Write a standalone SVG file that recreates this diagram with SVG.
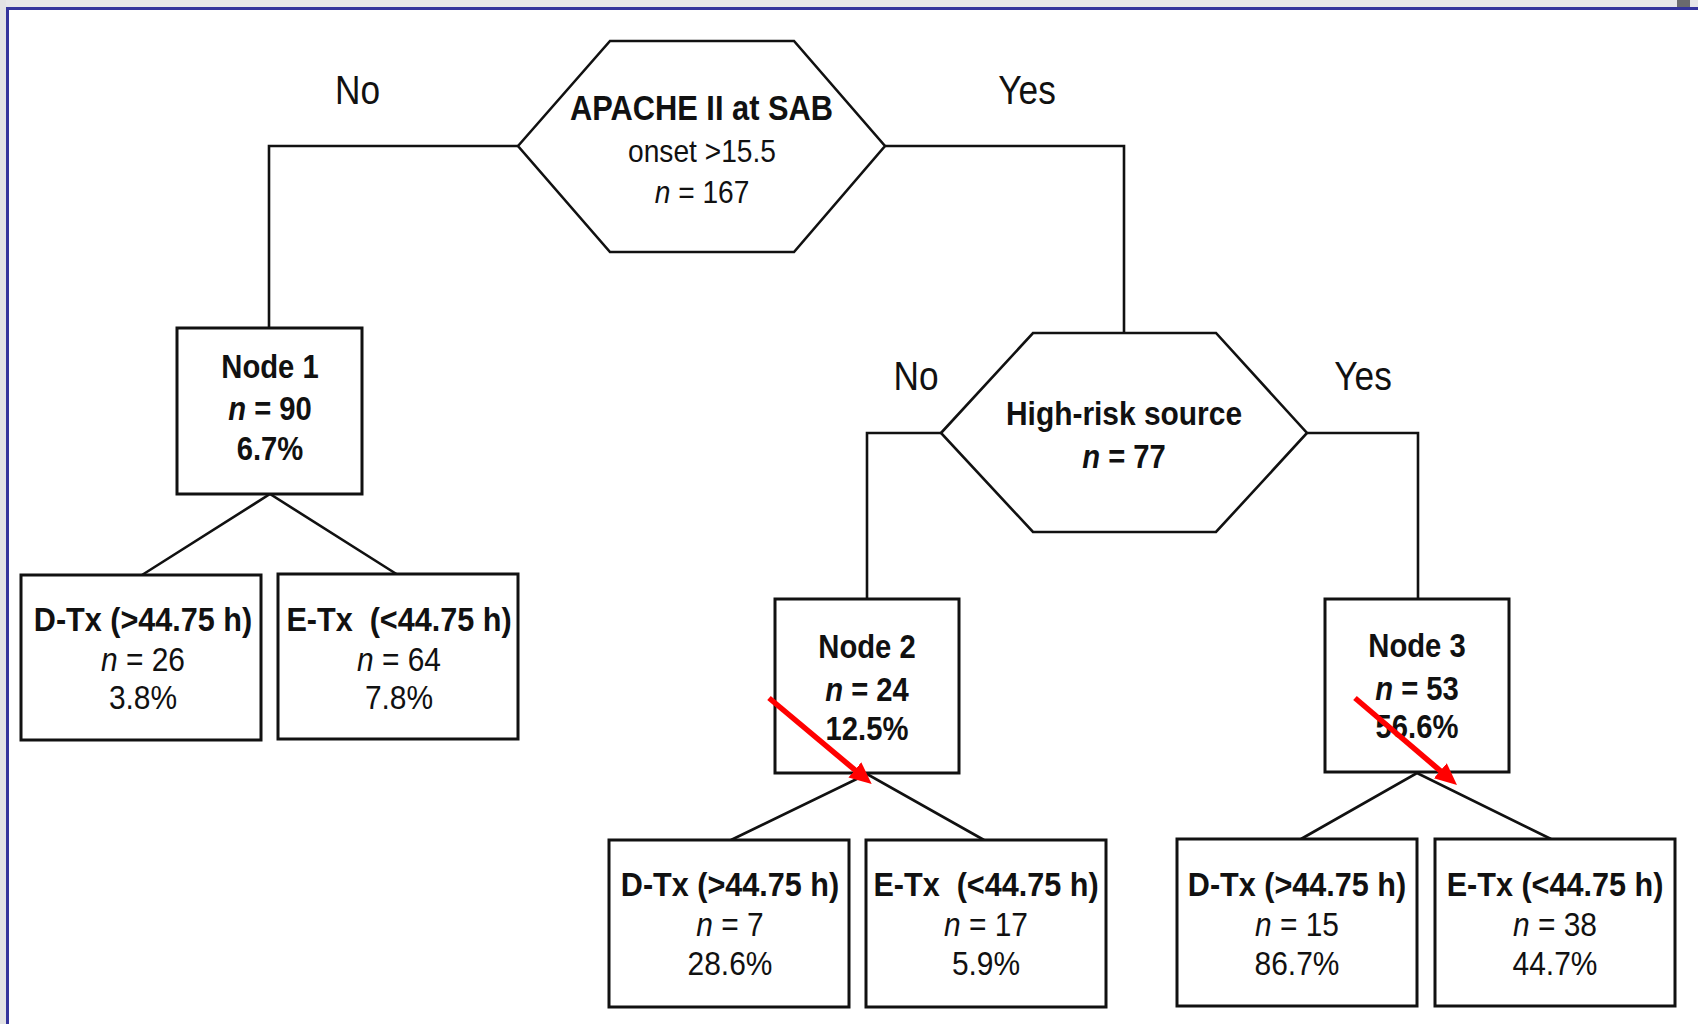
<svg xmlns="http://www.w3.org/2000/svg" width="1698" height="1024" viewBox="0 0 1698 1024">
<style>
  .t { font-family: "Liberation Sans", Arial, Helvetica, sans-serif; text-anchor: middle; fill: #111; }
  .b { font-weight: bold; }
  .yn { font-size: 41px; }
  .f34 { font-size: 34px; }
  .f35 { font-size: 35px; }
  .f32 { font-size: 32px; }
  .box { fill: #fff; stroke: #111; stroke-width: 3; }
  .hex { fill: #fff; stroke: #111; stroke-width: 2.6; }
  .conn { fill: none; stroke: #111; stroke-width: 2.6; }
  .red { stroke: #ff0000; stroke-width: 5.5; fill: none; }
  .i { font-style: italic; }
</style>
<defs>
  <marker id="redhead" markerUnits="userSpaceOnUse" markerWidth="24" markerHeight="22" refX="7" refY="10" orient="auto">
    <path d="M0,0 L22,10 L0,20 Z" fill="#ff0000"/>
  </marker>
</defs>

<!-- frame -->
<g id="frame">
  <rect x="0" y="0" width="1698" height="1024" fill="#ffffff"/>
  <rect x="0" y="0" width="1698" height="7" fill="#e6e6e8"/>
  <rect x="0" y="0" width="6" height="1024" fill="#e2e2e4"/>
  <rect x="1677" y="0" width="13" height="7" fill="#6a6a6e"/>
  <line x1="6" y1="8.5" x2="1698" y2="8.5" stroke="#34349c" stroke-width="3"/>
  <line x1="7.5" y1="7" x2="7.5" y2="1024" stroke="#34349c" stroke-width="3"/>
</g>

<!-- connectors -->
<g id="connectors">
  <path class="conn" d="M518,146 H269 V328"/>
  <path class="conn" d="M885,146 H1124 V333"/>
  <path class="conn" d="M941,433 H867 V599"/>
  <path class="conn" d="M1307,433 H1418 V599"/>
  <path class="conn" d="M142,575 L270,494 L398,575"/>
  <path class="conn" d="M731,840 L867,774 L984,840"/>
  <path class="conn" d="M1301,839 L1417,773 L1551,839"/>
</g>

<!-- labels on branches -->
<g id="branch-labels">
  <text class="t yn" transform="translate(357.5,104) scale(0.86,1)">No</text>
  <text class="t yn" transform="translate(1027,104) scale(0.86,1)">Yes</text>
  <text class="t yn" transform="translate(916,390) scale(0.86,1)">No</text>
  <text class="t yn" transform="translate(1363,390) scale(0.86,1)">Yes</text>
</g>

<g id="root">
  <polygon class="hex" points="518,146 610,41 794,41 885,146 794,252 610,252"/>
  <text class="t b f35" transform="translate(701.5,120) scale(0.88,1)">APACHE II at SAB</text>
  <text class="t f32" transform="translate(702,162) scale(0.88,1)">onset &gt;15.5</text>
  <text class="t f32" transform="translate(702,203) scale(0.88,1)"><tspan class="i">n</tspan> = 167</text>
</g>

<g id="node1">
  <rect class="box" x="177" y="328" width="185" height="166"/>
  <text class="t b f34" transform="translate(270,378) scale(0.86,1)">Node 1</text>
  <text class="t b f34" transform="translate(270,420) scale(0.86,1)"><tspan class="i">n</tspan> = 90</text>
  <text class="t b f34" transform="translate(270,460) scale(0.86,1)">6.7%</text>
</g>

<g id="leaf1a">
  <rect class="box" x="21" y="575" width="240" height="165"/>
  <text class="t b f34" transform="translate(143,631) scale(0.9,1)">D-Tx (&gt;44.75 h)</text>
  <text class="t f34" transform="translate(143,671) scale(0.88,1)"><tspan class="i">n</tspan> = 26</text>
  <text class="t f34" transform="translate(143,709) scale(0.88,1)">3.8%</text>
</g>

<g id="leaf1b">
  <rect class="box" x="278" y="574" width="240" height="165"/>
  <text class="t b f34" transform="translate(399,631) scale(0.9,1)" xml:space="preserve">E-Tx  (&lt;44.75 h)</text>
  <text class="t f34" transform="translate(399,671) scale(0.88,1)"><tspan class="i">n</tspan> = 64</text>
  <text class="t f34" transform="translate(399,709) scale(0.88,1)">7.8%</text>
</g>

<g id="hex2">
  <polygon class="hex" points="941,433 1033,333 1216,333 1307,433 1216,532 1033,532"/>
  <text class="t b f34" transform="translate(1124,425) scale(0.88,1)">High-risk source</text>
  <text class="t b f34" transform="translate(1124,468) scale(0.86,1)"><tspan class="i">n</tspan> = 77</text>
</g>

<g id="node2">
  <rect class="box" x="775" y="599" width="184" height="174"/>
  <text class="t b f34" transform="translate(867,658) scale(0.86,1)">Node 2</text>
  <text class="t b f34" transform="translate(867,701) scale(0.86,1)"><tspan class="i">n</tspan> = 24</text>
  <text class="t b f34" transform="translate(867,740) scale(0.86,1)">12.5%</text>
</g>

<g id="leaf2a">
  <rect class="box" x="609" y="840" width="240" height="167"/>
  <text class="t b f34" transform="translate(730,896) scale(0.9,1)">D-Tx (&gt;44.75 h)</text>
  <text class="t f34" transform="translate(730,936) scale(0.88,1)"><tspan class="i">n</tspan> = 7</text>
  <text class="t f34" transform="translate(730,975) scale(0.88,1)">28.6%</text>
</g>

<g id="leaf2b">
  <rect class="box" x="866" y="840" width="240" height="167"/>
  <text class="t b f34" transform="translate(986,896) scale(0.9,1)" xml:space="preserve">E-Tx  (&lt;44.75 h)</text>
  <text class="t f34" transform="translate(986,936) scale(0.88,1)"><tspan class="i">n</tspan> = 17</text>
  <text class="t f34" transform="translate(986,975) scale(0.88,1)">5.9%</text>
</g>

<g id="node3">
  <rect class="box" x="1325" y="599" width="184" height="173"/>
  <text class="t b f34" transform="translate(1417,657) scale(0.86,1)">Node 3</text>
  <text class="t b f34" transform="translate(1417,700) scale(0.86,1)"><tspan class="i">n</tspan> = 53</text>
  <text class="t b f34" transform="translate(1417,738) scale(0.86,1)">56.6%</text>
</g>

<g id="leaf3a">
  <rect class="box" x="1177" y="839" width="240" height="167"/>
  <text class="t b f34" transform="translate(1297,896) scale(0.9,1)">D-Tx (&gt;44.75 h)</text>
  <text class="t f34" transform="translate(1297,936) scale(0.88,1)"><tspan class="i">n</tspan> = 15</text>
  <text class="t f34" transform="translate(1297,975) scale(0.88,1)">86.7%</text>
</g>

<g id="leaf3b">
  <rect class="box" x="1435" y="839" width="240" height="167"/>
  <text class="t b f34" transform="translate(1555,896) scale(0.9,1)">E-Tx (&lt;44.75 h)</text>
  <text class="t f34" transform="translate(1555,936) scale(0.88,1)"><tspan class="i">n</tspan> = 38</text>
  <text class="t f34" transform="translate(1555,975) scale(0.88,1)">44.7%</text>
</g>

<g id="red-arrows">
  <line class="red" x1="769" y1="698" x2="860.2" y2="774.4" marker-end="url(#redhead)"/>
  <line class="red" x1="1355" y1="698" x2="1445.6" y2="775.3" marker-end="url(#redhead)"/>
</g>
</svg>
